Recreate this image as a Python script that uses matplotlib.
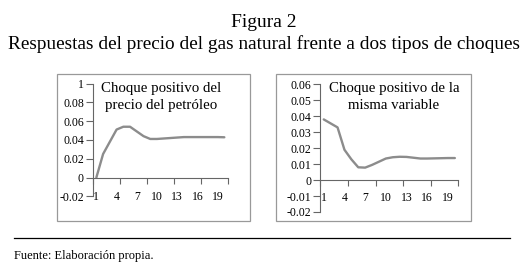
import matplotlib
matplotlib.use("Agg")
import matplotlib.pyplot as plt
from matplotlib.patches import Rectangle
from matplotlib.lines import Line2D
import numpy as np

plt.rcParams["font.family"] = ["Liberation Serif", "DejaVu Serif"]

W, H = 528, 276

title = "Figura 2"
subtitle = "Respuestas del precio del gas natural frente a dos tipos de choques"
source = "Fuente: Elaboración propia."

periods = np.arange(1, 21)
x_labels = [1, 4, 7, 10, 13, 16, 19]

# respuesta a un choque positivo del precio del petróleo
oil_shock = [0.0, 0.025, 0.038, 0.051, 0.054, 0.054, 0.049, 0.044, 0.041, 0.041,
             0.0415, 0.042, 0.0425, 0.043, 0.043, 0.043, 0.043, 0.043, 0.043, 0.0428]
oil_title = ["Choque positivo del", "precio del petróleo"]
oil_yticks = [-0.02, 0, 0.02, 0.04, 0.06, 0.08, 0.1]
oil_yticklabels = ["-0.02", "0", "0.02", "0.04", "0.06", "0.08", "1"]

# respuesta a un choque positivo de la misma variable
own_shock = [0.038, 0.0355, 0.033, 0.019, 0.013, 0.008, 0.0078, 0.0095, 0.0115, 0.0135,
             0.0143, 0.0146, 0.0145, 0.014, 0.0135, 0.0135, 0.0136, 0.0137, 0.0138, 0.0138]
own_title = ["Choque positivo de la", "misma variable"]
own_yticks = [-0.02, -0.01, 0, 0.01, 0.02, 0.03, 0.04, 0.05, 0.06]
own_yticklabels = ["-0.02", "-0.01", "0", "0.01", "0.02", "0.03", "0.04", "0.05", "0.06"]


def px_rect(x0, y0, x1, y1):
    """Figure-fraction rectangle from pixel corners (top-left origin)."""
    return [x0 / W, 1 - y1 / H, (x1 - x0) / W, (y1 - y0) / H]


def draw_panel(fig, rect, values, yticks, yticklabels, label_pad):
    ax = fig.add_axes(rect)
    ax.patch.set_visible(False)
    ax.plot(periods, values, color="#8c8c8c", lw=1.7, solid_capstyle="round")
    ax.set_xlim(0.5, 20.5)
    ax.set_ylim(yticks[0], yticks[-1])
    for s in ["top", "right"]:
        ax.spines[s].set_visible(False)
    ax.spines["bottom"].set_position(("data", 0))
    for s in ["left", "bottom"]:
        ax.spines[s].set_color("#666666")
        ax.spines[s].set_linewidth(0.8)
    ax.set_yticks(yticks)
    ax.set_yticklabels(yticklabels)
    ax.tick_params(axis="y", direction="out", length=5, width=0.8, color="#666666",
                   pad=1.5, labelsize=8.5)
    ax.set_xticks(x_labels)
    ax.set_xticklabels([str(v) for v in x_labels])
    ax.set_xticks(np.arange(0.5, 21, 4), minor=True)
    ax.tick_params(axis="x", which="major", length=0, pad=label_pad, labelsize=8.5)
    ax.tick_params(axis="x", which="minor", direction="out", length=4, width=0.8,
                   color="#666666")
    return ax


fig = plt.figure(figsize=(W / 100, H / 100), dpi=100)

# marcos de los paneles
for x0, x1 in [(57, 250), (276, 471)]:
    fig.patches.append(Rectangle((x0 / W, 1 - 221 / H), (x1 - x0) / W, (221 - 74) / H,
                                 transform=fig.transFigure, fill=False,
                                 edgecolor="#999999", lw=0.9))

draw_panel(fig, px_rect(93, 83.5, 227.7, 196.3), oil_shock, oil_yticks, oil_yticklabels, 10.0)
draw_panel(fig, px_rect(320.3, 84.3, 458.3, 212), own_shock, own_yticks, own_yticklabels, 8.5)

for cx, lines in [(161.5, oil_title), (394, own_title)]:
    for base_y, line in zip([92, 108.5], lines):
        fig.text(cx / W, 1 - base_y / H, line, ha="center", va="baseline", fontsize=10.7)

fig.text(0.5, 1 - 27 / H, title, ha="center", va="baseline", fontsize=14)
fig.text(0.5, 1 - 49 / H, subtitle, ha="center", va="baseline", fontsize=13.9)

fig.lines.append(Line2D([14 / W, 510 / W], [1 - 237.7 / H] * 2, transform=fig.transFigure,
                        color="black", lw=0.9))
fig.text(14 / W, 1 - 258.5 / H, source, ha="left", va="baseline", fontsize=9)

fig.savefig("out.png", dpi=100)
